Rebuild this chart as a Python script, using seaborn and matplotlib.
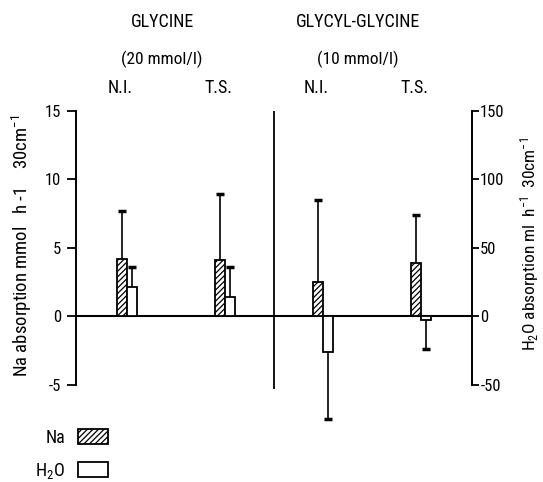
"""
Na and H2O absorption with glycine / glycyl-glycine perfusion (N.I. vs T.S.).
"""
import pandas as pd
import matplotlib.pyplot as plt
import matplotlib.transforms as mtransforms
from matplotlib.patches import Patch
import seaborn as sns

# === DATA ===
CONDITIONS = ["Gly N.I.", "Gly T.S.", "GlyGly N.I.", "GlyGly T.S."]
COND_LABELS = ["N.I.", "T.S.", "N.I.", "T.S."]
GROUP_TITLES = ["GLYCINE", "GLYCYL-GLYCINE"]
GROUP_CONC = ["(20 mmol/l)", "(10 mmol/l)"]

NA_MEAN = [4.2, 4.1, 2.5, 3.9]      # mmol h-1 30cm-1
NA_SD = [3.5, 4.8, 6.0, 3.5]
H2O_MEAN = [21, 14, -26, -3]        # ml h-1 30cm-1
H2O_SD = [15, 22, 49, 21]

LEFT_TICKS = [-5, 0, 5, 10, 15]
RIGHT_TICKS = [-50, 0, 50, 100, 150]

FONT = ["Roboto Condensed", "DejaVu Sans"]


def add_errorbars(ax, means, sds):
    """One-sided error bars (away from zero), cap only at the far end."""
    patches = sorted(ax.patches, key=lambda p: p.get_x())
    for p, m, sd in zip(patches, means, sds):
        xc = p.get_x() + p.get_width() / 2
        end = m + sd if m >= 0 else m - sd
        ax.vlines(xc, m, end, color="black", linewidth=1.2, zorder=1, clip_on=False)
        ax.plot([xc], [end], marker="_", markersize=6, markeredgewidth=2.5,
                color="black", clip_on=False)


def main():
    sns.set_style("white")
    plt.rcParams["font.family"] = FONT
    plt.rcParams["mathtext.default"] = "regular"
    plt.rcParams["axes.unicode_minus"] = False
    plt.rcParams["text.color"] = "black"
    plt.rcParams["xtick.color"] = "black"
    plt.rcParams["ytick.color"] = "black"
    plt.rcParams["axes.edgecolor"] = "black"
    plt.rcParams["hatch.linewidth"] = 0.9

    fig = plt.figure(figsize=(5.43, 4.82), dpi=100)
    ax = fig.add_axes([0.140, 0.117, 0.729, 0.662])
    ax2 = ax.twinx()

    na_df = pd.DataFrame({"condition": CONDITIONS, "value": NA_MEAN, "measure": "Na"})
    h2o_df = pd.DataFrame({"condition": CONDITIONS, "value": H2O_MEAN, "measure": "H2O"})
    palette = {"Na": "white", "H2O": "white"}

    sns.barplot(data=na_df, x="condition", y="value", hue="measure", hue_order=["Na", "H2O"],
                order=CONDITIONS, palette=palette, dodge=True, width=0.2, errorbar=None,
                edgecolor="black", linewidth=1.3, hatch="//////", legend=False, ax=ax)
    sns.barplot(data=h2o_df, x="condition", y="value", hue="measure", hue_order=["Na", "H2O"],
                order=CONDITIONS, palette=palette, dodge=True, width=0.2, errorbar=None,
                edgecolor="black", linewidth=1.3, legend=False, ax=ax2)

    add_errorbars(ax, NA_MEAN, NA_SD)
    add_errorbars(ax2, H2O_MEAN, H2O_SD)

    # scales: right axis is 10x the left one
    ax.set_ylim(-8, 15.3)
    ax2.set_ylim(-80, 153)
    ax.set_xlim(-0.52, len(CONDITIONS) - 0.48)

    ax.axhline(0, color="black", linewidth=1.5, zorder=0)
    mid = (len(CONDITIONS) - 1) / 2
    ax.vlines(mid, -5.3, 15.0, color="black", linewidth=1.3)

    for a in (ax, ax2):
        a.set_xticks([])
        a.set_xlabel("")
        a.set_ylabel("")
        a.spines["top"].set_visible(False)
        a.spines["bottom"].set_visible(False)
    ax.spines["right"].set_visible(False)
    ax2.spines["left"].set_visible(False)
    ax.spines["left"].set_bounds(LEFT_TICKS[0], LEFT_TICKS[-1])
    ax2.spines["right"].set_bounds(RIGHT_TICKS[0], RIGHT_TICKS[-1])
    ax.spines["left"].set_linewidth(1.4)
    ax2.spines["right"].set_linewidth(1.4)

    ax.set_yticks(LEFT_TICKS)
    ax2.set_yticks(RIGHT_TICKS)
    ax.tick_params(axis="y", left=True, direction="out", length=6.5, width=1.3,
                   pad=4, labelsize=12)
    ax2.tick_params(axis="y", right=True, direction="out", length=5, width=1.3,
                    pad=1, labelsize=12)

    # header labels above the plot
    trans = mtransforms.blended_transform_factory(ax.transData, fig.transFigure)
    for i, lab in enumerate(COND_LABELS):
        ax.text(i - 0.07, 0.817, lab, transform=trans, ha="center", va="center", fontsize=13)
    for g, (title, conc) in enumerate(zip(GROUP_TITLES, GROUP_CONC)):
        xc = 2 * g + 0.5 - 0.14
        ax.text(xc, 0.954, title, transform=trans, ha="center", va="center", fontsize=13)
        ax.text(xc, 0.876, conc, transform=trans, ha="center", va="center", fontsize=12.5)

    fig.text(0.040, 0.49, "Na absorption mmol   h -1    30cm$^{-1}$", rotation=90,
             ha="center", va="center", fontsize=13.5)
    fig.text(0.976, 0.494, "H$_2$O absorption ml  h$^{-1}$  30cm$^{-1}$", rotation=90,
             ha="center", va="center", fontsize=12.5)

    handles = [Patch(facecolor="white", edgecolor="black", hatch="//////", linewidth=1.3),
               Patch(facecolor="white", edgecolor="black", linewidth=1.3)]
    fig.legend(handles, ["Na", "H$_2$O"], loc="upper left", bbox_to_anchor=(0.065, 0.11),
               frameon=False, markerfirst=False, handlelength=1.7, handleheight=0.9,
               handletextpad=0.7, labelspacing=0.75, borderpad=0, borderaxespad=0,
               fontsize=13)

    plt.savefig("out.png", dpi=100)
    plt.close()
    print("Saved: out.png")


if __name__ == "__main__":
    main()
